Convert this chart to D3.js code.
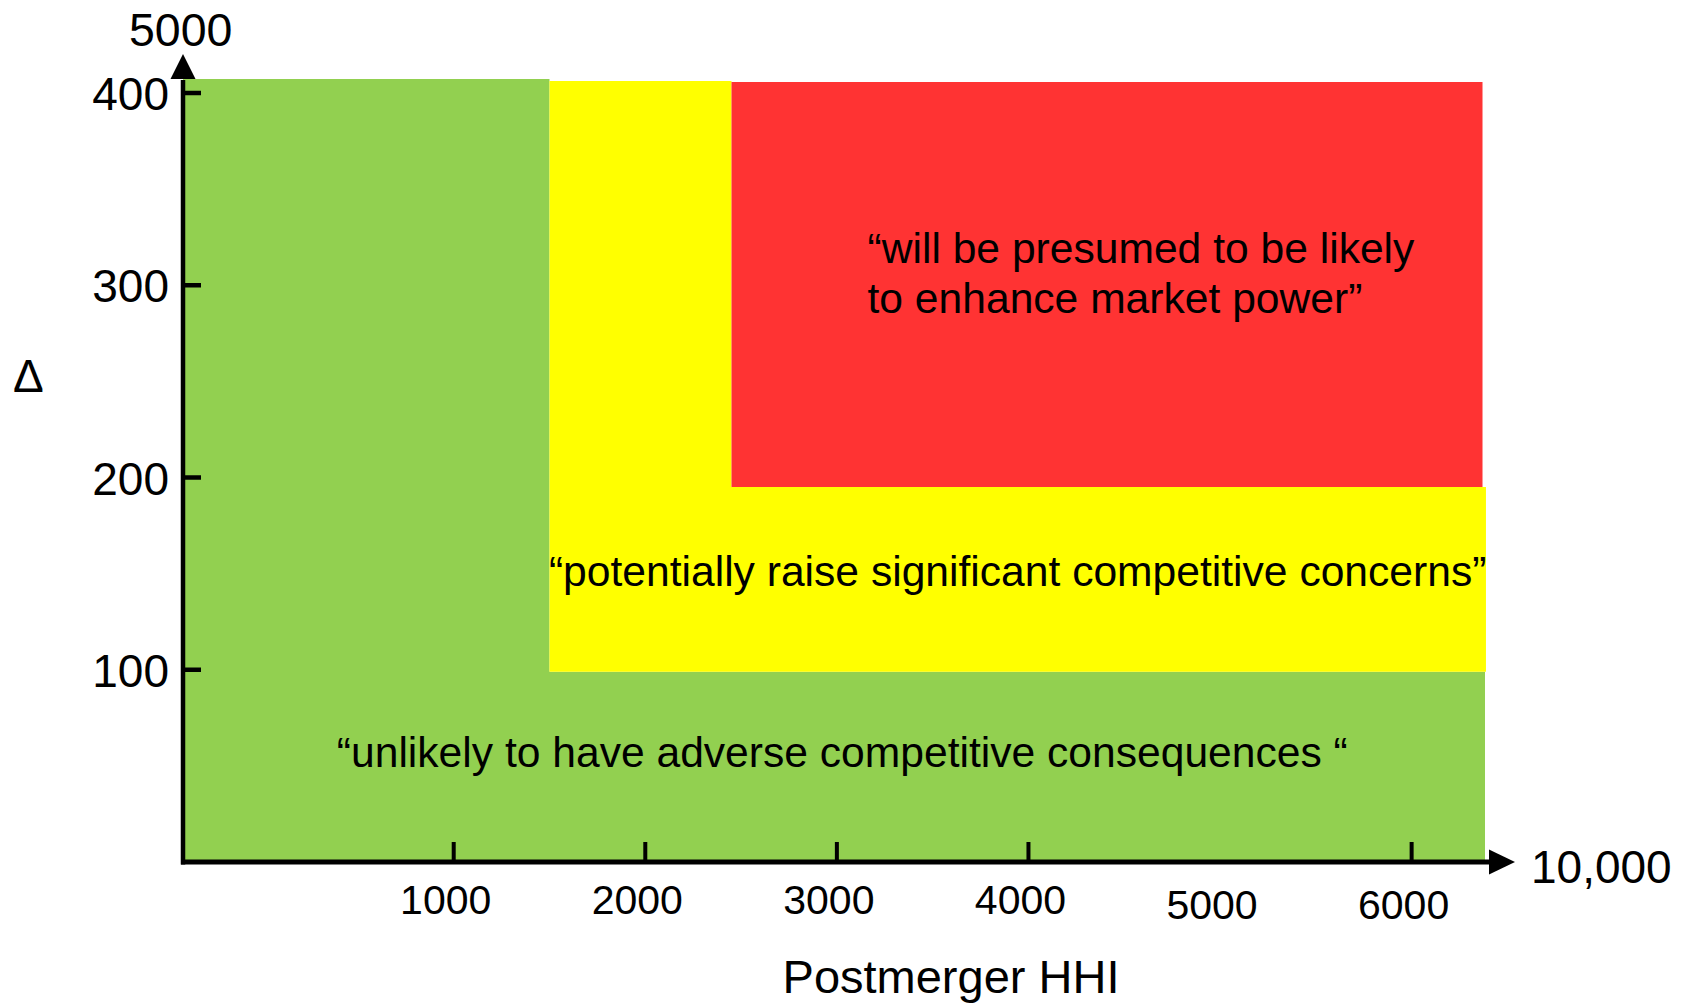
<!DOCTYPE html>
<html>
<head>
<meta charset="utf-8">
<script src="https://cdn.jsdelivr.net/npm/d3@7"></script>
<style>
  html, body { margin: 0; padding: 0; background: #ffffff; }
  svg { display: block; }
  text { font-family: "Liberation Sans", Arial, Helvetica, sans-serif; fill: #000; }
</style>
</head>
<body>
<svg id="chart" width="1690" height="1003"></svg>
<script>
// ---------- data ----------
const zoneNames   = ["unlikely", "potentially", "presumed"];
const zoneX0      = [-413, 1500, 2450];   // postmerger HHI (left edge)
const zoneX1      = [6383, 6388, 6370];   // right edge
const zoneY0      = [0, 99, 195];          // delta (bottom edge)
const zoneY1      = [407.3, 406.2, 405.7]; // top edge
const zoneColors  = ["#92D050", "#FFFF00", "#FF3333"];

const zoneTexts   = [
  ["\u201Cunlikely to have adverse competitive consequences \u201C"],
  ["\u201Cpotentially raise significant competitive concerns\u201D"],
  ["\u201Cwill be presumed to be likely", "to enhance market power\u201D"]
];
const zoneTextX   = [390, 1497, 3160];    // HHI value where text starts
const zoneTextY   = [49.4, 143.6, 311.6];  // delta value of first baseline

const xTickValues = [1000, 2000, 3000, 4000, 6000];
const xLabelValues = [1000, 2000, 3000, 4000, 5000, 6000];
const xLabelTexts  = ["1000", "2000", "3000", "4000", "5000", "6000"];
const yTickValues = [100, 200, 300, 400];
const yTickTexts  = ["100", "200", "300", "400"];

const xAxisTitle = "Postmerger HHI";
const yAxisTitle = "\u0394";
const xAxisEnd   = "10,000";
const yAxisEnd   = "5000";

// ---------- scales ----------
const x = d3.scaleLinear().domain([-413, 6383]).range([183, 1485]);
const y = d3.scaleLinear().domain([0, 400]).range([862, 93]);

const svg = d3.select("#chart");

// zones: each zone is its own rectangle minus the next (higher) zone -> L shapes
const zones = zoneNames.map((n, i) => ({
  name: n, x0: zoneX0[i], x1: zoneX1[i], y0: zoneY0[i], y1: zoneY1[i], c: zoneColors[i]
}));
function zonePoints(i) {
  const z = zones[i], nx = zones[i + 1];
  if (!nx) return [[z.x0, z.y0], [z.x1, z.y0], [z.x1, z.y1], [z.x0, z.y1]];
  return [[z.x0, z.y0], [z.x1, z.y0], [z.x1, nx.y0], [nx.x0, nx.y0],
          [nx.x0, z.y1], [z.x0, z.y1]];
}
const poly = d3.line().x(p => x(p[0])).y(p => y(p[1]));
svg.append("g").selectAll("path").data(zones).join("path")
  .attr("d", (d, i) => poly(zonePoints(i)) + "Z")
  .attr("fill", d => d.c);

// zone texts
zoneTexts.forEach((lines, i) => {
  const t = svg.append("text")
    .attr("x", x(zoneTextX[i]))
    .attr("y", y(zoneTextY[i]))
    .style("font-size", "42.6px");
  lines.forEach((ln, j) => {
    t.append("tspan").attr("x", x(zoneTextX[i])).attr("dy", j === 0 ? 0 : 50).text(ln);
  });
});

// axes lines
const axis = svg.append("g").attr("stroke", "#000").attr("fill", "none");
const x0px = x(-413), y0px = y(0);
axis.append("line").attr("x1", x0px).attr("x2", x0px)
  .attr("y1", y0px + 2.5).attr("y2", 80).attr("stroke-width", 4.5);
axis.append("line").attr("x1", x0px - 2).attr("x2", 1492)
  .attr("y1", y0px).attr("y2", y0px).attr("stroke-width", 5);

// arrowheads
svg.append("path")
  .attr("d", `M${x0px},54 L${x0px + 12.5},79 L${x0px - 12.5},79 Z`)
  .attr("fill", "#000");
svg.append("path")
  .attr("d", `M1515,${y0px} L1489,${y0px - 12.5} L1489,${y0px + 12.5} Z`)
  .attr("fill", "#000");

// y ticks
svg.append("g").selectAll("line").data(yTickValues).join("line")
  .attr("x1", x0px).attr("x2", x0px + 18)
  .attr("y1", d => y(d)).attr("y2", d => y(d))
  .attr("stroke", "#000").attr("stroke-width", 4.5);
svg.append("g").selectAll("text").data(yTickValues).join("text")
  .attr("x", 169)
  .attr("y", d => y(d) + 17)
  .attr("text-anchor", "end")
  .style("font-size", "46px")
  .text((d, i) => yTickTexts[i]);

// x ticks
svg.append("g").selectAll("line").data(xTickValues).join("line")
  .attr("x1", d => x(d)).attr("x2", d => x(d))
  .attr("y1", y0px).attr("y2", y0px - 20)
  .attr("stroke", "#000").attr("stroke-width", 4);
svg.append("g").selectAll("text").data(xLabelValues).join("text")
  .attr("x", d => x(d) - 8)
  .attr("y", (d, i) => i < 4 ? 914 : 919)
  .attr("text-anchor", "middle")
  .style("font-size", "41px")
  .text((d, i) => xLabelTexts[i]);

// axis end labels & titles
svg.append("text").attr("x", 129).attr("y", 46).style("font-size", "46.5px").text(yAxisEnd);
svg.append("text").attr("x", 1531).attr("y", 883).style("font-size", "46px").text(xAxisEnd);
svg.append("text").attr("x", 13).attr("y", 392).style("font-size", "46px").text(yAxisTitle);
svg.append("text").attr("x", 951).attr("y", 993).attr("text-anchor", "middle")
  .style("font-size", "47px").text(xAxisTitle);
</script>
</body>
</html>
